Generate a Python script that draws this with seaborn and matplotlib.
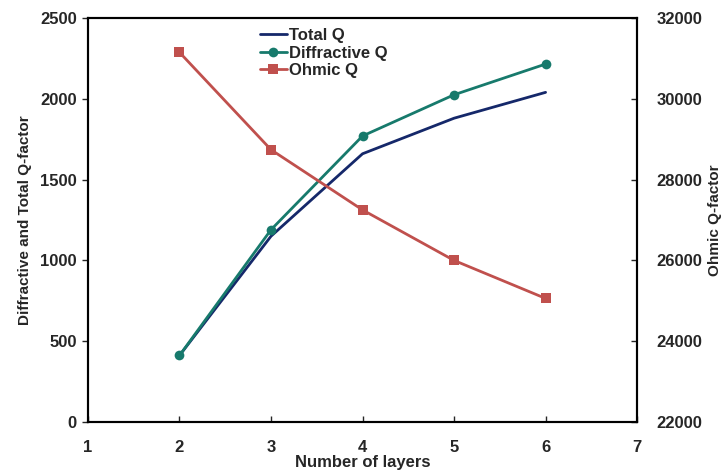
import numpy as np
import pandas as pd
import matplotlib
matplotlib.use("Agg")
import matplotlib.pyplot as plt
import seaborn as sns

# values
layers = [2, 3, 4, 5, 6]
total_q = [412, 1150, 1660, 1880, 2040]
diffractive_q = [412, 1190, 1770, 2025, 2215]
ohmic_q = [31150, 28740, 27250, 26000, 25060]

df = pd.DataFrame({"layers": layers, "total": total_q,
                   "diffractive": diffractive_q, "ohmic": ohmic_q})

sns.set_style("white")
plt.rcParams["font.family"] = ["Liberation Sans", "DejaVu Sans"]
plt.rcParams["font.weight"] = "bold"

fig = plt.figure(figsize=(7.24, 4.70), dpi=100)
ax1 = fig.add_axes([0.1215, 0.102, 0.7585, 0.8597])
ax2 = ax1.twinx()

sns.lineplot(data=df, x="layers", y="total", ax=ax1, color="#15286a",
             lw=2, label="Total Q", legend=False)
sns.lineplot(data=df, x="layers", y="diffractive", ax=ax1, color="#177a6c",
             lw=2, marker="o", markersize=7, markeredgewidth=0,
             label="Diffractive Q", legend=False)
sns.lineplot(data=df, x="layers", y="ohmic", ax=ax2, color="#c0504d",
             lw=2, marker="s", markersize=7, markeredgewidth=0,
             label="Ohmic Q", legend=False)

ax1.set_xlim(1, 7)
ax1.set_ylim(0, 2500)
ax2.set_ylim(22000, 32000)
ax1.set_xticks(range(1, 8))
ax1.set_yticks(range(0, 2501, 500))
ax2.set_yticks(range(22000, 32001, 2000))

for sp in ax1.spines.values():
    sp.set_linewidth(1.5)
    sp.set_color("black")
for sp in ax2.spines.values():
    sp.set_linewidth(1.5)
    sp.set_color("black")

ax1.tick_params(axis="y", direction="out", length=4, width=1, labelsize=12, pad=4, left=True)
ax1.tick_params(axis="x", direction="in", length=4, width=1, labelsize=12, pad=13, bottom=True)
ax2.tick_params(axis="y", direction="in", length=4, width=1, labelsize=12, pad=14, right=True)
for lab in ax1.get_xticklabels() + ax1.get_yticklabels() + ax2.get_yticklabels():
    lab.set_fontweight("bold")

ax1.set_xlabel("Number of layers", fontsize=12, fontweight="bold", labelpad=0)
ax1.set_ylabel("Diffractive and Total Q-factor", fontsize=11, fontweight="bold", labelpad=6)
ax2.set_ylabel("Ohmic Q-factor", fontsize=11, fontweight="bold", labelpad=4)

h1, l1 = ax1.get_legend_handles_labels()
h2, l2 = ax2.get_legend_handles_labels()
leg = ax1.legend(h1 + h2, l1 + l2, loc="upper left", bbox_to_anchor=(0.295, 1.0),
                 frameon=False, fontsize=12, handlelength=1.6, handletextpad=0.15,
                 labelspacing=0.15, borderaxespad=0.2)
for t in leg.get_texts():
    t.set_fontweight("bold")

fig.savefig("out.png", dpi=100)
